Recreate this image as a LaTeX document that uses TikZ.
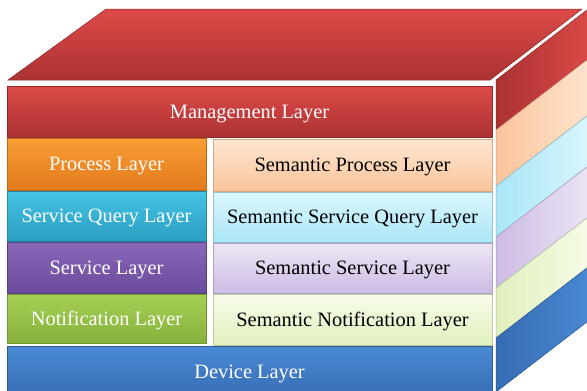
\documentclass[tikz,border=0pt]{standalone}
\usepackage{fontspec}
\setmainfont{Liberation Serif}
\definecolor{redT}{HTML}{DC4A48}
\definecolor{redB}{HTML}{AC3232}
\definecolor{orT}{HTML}{F99E34}
\definecolor{orB}{HTML}{E27A1C}
\definecolor{cyT}{HTML}{44C4E4}
\definecolor{cyB}{HTML}{2C9EC2}
\definecolor{puT}{HTML}{8A68B8}
\definecolor{puB}{HTML}{6A4A9C}
\definecolor{grT}{HTML}{A6D055}
\definecolor{grB}{HTML}{86B03A}
\definecolor{blT}{HTML}{4A8AD4}
\definecolor{blB}{HTML}{366CB4}
\definecolor{lorT}{HTML}{FEE6D2}
\definecolor{lorB}{HTML}{FAC49A}
\definecolor{lcyT}{HTML}{DDF7FD}
\definecolor{lcyB}{HTML}{A9E6F6}
\definecolor{lpuT}{HTML}{EEE7F6}
\definecolor{lpuB}{HTML}{CDBBE4}
\definecolor{lgrT}{HTML}{F7FCEA}
\definecolor{lgrB}{HTML}{E0F0BE}
\tikzset{
  layer/.style={rectangle, inner sep=0pt, outer sep=0pt, line width=0.6pt,
    text depth=0pt, font=\fontsize{20.4}{24}\selectfont},
  darkbox/.style n args={2}{layer, top color=#1, bottom color=#2, draw=#2!85!black, text=white},
  lightbox/.style n args={2}{layer, top color=#1, bottom color=#2, draw=#2!85!black, text=black},
  sideband/.style n args={2}{left color=#1, right color=#2, draw=#1!80!black, line width=0.5pt}
}
\begin{document}
\begin{tikzpicture}[x=1pt,y=-1pt]
\useasboundingbox (0,0) rectangle (587,391);
\clip (0,0) rectangle (587,391);
\fill[white] (0,0) rectangle (587,391);
% top face
\shade[top color=redT, bottom color=redB, draw=redB!80!black, line width=0.5pt]
  (8,80) -- (490,80) -- (582,9) -- (106,9) -- cycle;
% side face bands
\shade[sideband={redB}{redT}] (496,80) -- (496,130) -- (596,53) -- (596,3) -- cycle;
\shade[sideband={lorB}{lorT}] (496,130) -- (496,186) -- (596,109) -- (596,53) -- cycle;
\shade[sideband={lcyB}{lcyT}] (496,186) -- (496,237) -- (596,160) -- (596,109) -- cycle;
\shade[sideband={lpuB}{lpuT}] (496,237) -- (496,288) -- (596,211) -- (596,160) -- cycle;
\shade[sideband={lgrB}{lgrT}] (496,288) -- (496,338) -- (596,261) -- (596,211) -- cycle;
\shade[sideband={blB}{blT}] (496,338) -- (496,392) -- (596,315) -- (596,261) -- cycle;
% front
\node[darkbox={redT}{redB}, minimum width=485pt, minimum height=51pt] (mgmt) at (249.5,111.5) {Management Layer};
\node[darkbox={orT}{orB}, minimum width=199pt, minimum height=52pt] (proc) at (106.5,164) {Process Layer};
\node[darkbox={cyT}{cyB}, minimum width=199pt, minimum height=50pt] (squery) at (106.5,216) {Service Query Layer};
\node[darkbox={puT}{puB}, minimum width=199pt, minimum height=51pt] (serv) at (106.5,267.5) {Service Layer};
\node[darkbox={grT}{grB}, minimum width=199pt, minimum height=49pt] (notif) at (106.5,318.5) {Notification Layer};
\node[lightbox={lorT}{lorB}, minimum width=279pt, minimum height=52pt] (sproc) at (352.5,165) {Semantic Process Layer};
\node[lightbox={lcyT}{lcyB}, minimum width=279pt, minimum height=50pt] (ssquery) at (352.5,217) {Semantic Service Query Layer};
\node[lightbox={lpuT}{lpuB}, minimum width=279pt, minimum height=50pt] (sserv) at (352.5,268) {Semantic Service Layer};
\node[lightbox={lgrT}{lgrB}, minimum width=279pt, minimum height=51pt] (snotif) at (352.5,319.5) {Semantic Notification Layer};
\node[darkbox={blT}{blB}, minimum width=485pt, minimum height=52pt] (device) at (249.5,372) {Device Layer};
\end{tikzpicture}
\end{document}
